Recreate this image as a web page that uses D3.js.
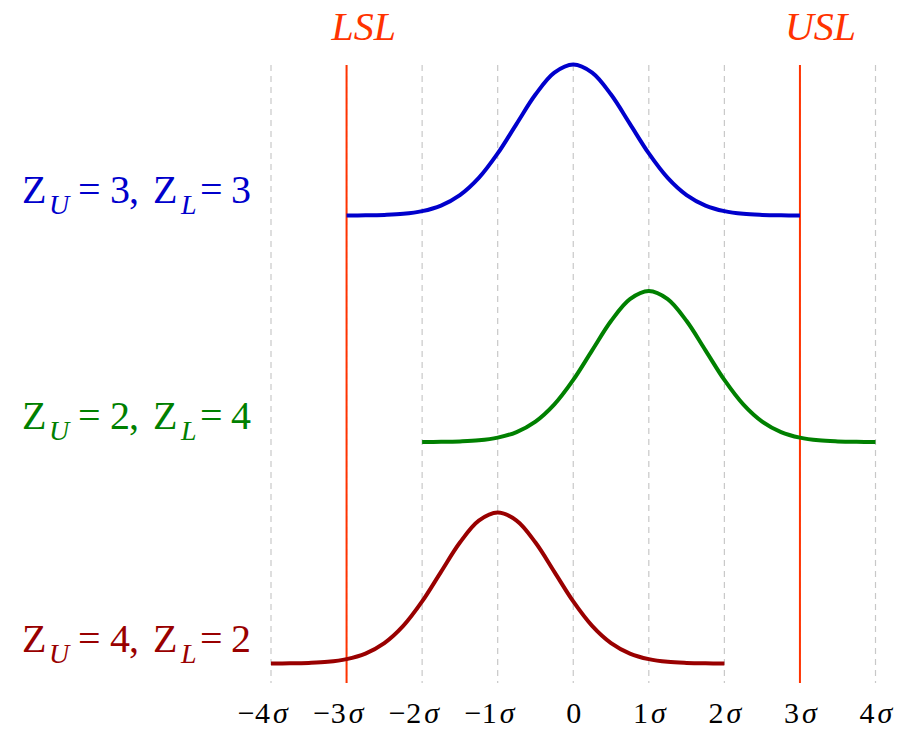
<!DOCTYPE html>
<html><head><meta charset="utf-8">
<script src="https://cdn.jsdelivr.net/npm/d3@7"></script>
<style>
html,body{margin:0;padding:0;background:#fff;}
svg{display:block;}
</style></head>
<body>
<svg id="chart" width="908" height="729"></svg>
<script>
// ---- data ----
const tickValues = [-4, -3, -2, -1, 0, 1, 2, 3, 4];
const tickNums   = ["4", "3", "2", "1", "0", "1", "2", "3", "4"];
const tickSigns  = ["\u2212", "\u2212", "\u2212", "\u2212", "", "", "", "", ""];
const specLimits = [-3, 3];
const specNames  = ["LSL", "USL"];
// relative height of each curve, at offsets (in sigma) from its centre
const profileOffsets = [-3, -2.75, -2.5, -2.25, -2, -1.75, -1.5, -1.25, -1, -0.75, -0.5, -0.25, 0,
                        0.25, 0.5, 0.75, 1, 1.25, 1.5, 1.75, 2, 2.25, 2.5, 2.75, 3];
const profileHeights = [0.0003, 0.0012, 0.004, 0.011, 0.029, 0.066, 0.135, 0.249, 0.411, 0.607, 0.801, 0.946, 1,
                        0.946, 0.801, 0.607, 0.411, 0.249, 0.135, 0.066, 0.029, 0.011, 0.004, 0.0012, 0.0003];
const seriesNames  = ["blue", "green", "red"];
const seriesMeans  = [0, 1, -1];
const seriesZU     = [3, 2, 4];
const seriesZL     = [3, 4, 2];

// ---- layout / style ----
const FONT = "Liberation Serif";
const colors = ["#0000cc", "#008000", "#990000"];
const baselines = [215.5, 442, 663.5];
const curveHeight = 151;
const labelBaselines = [203, 429, 652];
const specColor = "#ff3300";
// x positions of the pieces of each left label: Z, sub, =, value, comma, Z, sub, =, value
const labelPieceX = [22, 49, 78, 110, 129, 153, 181, 200, 231];

const svg = d3.select("#chart").attr("font-family", FONT);
const x = d3.scaleLinear().domain([-4, 4]).range([271, 875.5]);

// grid lines
svg.append("g").selectAll("line").data(tickValues).join("line")
  .attr("x1", d => x(d)).attr("x2", d => x(d))
  .attr("y1", 65).attr("y2", 683)
  .attr("stroke", "#c8c8c8").attr("stroke-width", 1.2)
  .attr("stroke-dasharray", "6,5");

// spec limit lines
svg.append("g").selectAll("line").data(specLimits).join("line")
  .attr("x1", d => x(d)).attr("x2", d => x(d))
  .attr("y1", 65).attr("y2", 683)
  .attr("stroke", specColor).attr("stroke-width", 2);

svg.append("g").selectAll("text").data(specLimits).join("text")
  .attr("x", d => x(d) - 15).attr("y", 39.5)
  .attr("font-family", FONT)
  .attr("font-style", "italic")
  .attr("font-size", 40)
  .attr("fill", specColor)
  .text((d, i) => specNames[i]);

// curves
seriesNames.forEach((name, i) => {
  const y = d3.scaleLinear().domain([0, 1]).range([baselines[i], baselines[i] - curveHeight]);
  const pts = profileOffsets.map((o, j) => [seriesMeans[i] + o, profileHeights[j]]);
  const line = d3.line().x(d => x(d[0])).y(d => y(d[1])).curve(d3.curveCatmullRom);
  svg.append("path").datum(pts)
    .attr("d", line)
    .attr("fill", "none")
    .attr("stroke", colors[i])
    .attr("stroke-width", 4)
    .attr("stroke-linejoin", "round");

  // label
  const yb = labelBaselines[i];
  const pieces = [
    {t: "Z", sub: false}, {t: "U", sub: true}, {t: "=", sub: false}, {t: String(seriesZU[i]), sub: false},
    {t: ",", sub: false}, {t: "Z", sub: false}, {t: "L", sub: true}, {t: "=", sub: false}, {t: String(seriesZL[i]), sub: false}
  ];
  const t = svg.append("text").attr("fill", colors[i]).attr("font-size", 40).attr("font-family", FONT);
  pieces.forEach((p, k) => {
    t.append("tspan")
      .attr("x", labelPieceX[k])
      .attr("y", p.sub ? yb + 11 : yb)
      .attr("font-size", p.sub ? 28 : 40)
      .attr("font-style", p.sub ? "italic" : "normal")
      .text(p.t);
  });
});

// x axis
const axis = d3.axisBottom(x).tickValues(tickValues).tickSize(0).tickPadding(0)
  .tickFormat((d, i) => tickNums[i]);
const gAxis = svg.append("g").attr("transform", "translate(0,683)").call(axis);
gAxis.attr("font-family", FONT);
gAxis.select(".domain").remove();
gAxis.selectAll("text")
  .attr("font-family", FONT)
  .attr("font-size", 30)
  .attr("fill", "#000")
  .attr("y", 40).attr("dy", null)
  .each(function(d, i) {
    const el = d3.select(this);
    el.text(null);
    el.append("tspan").text(tickNums[i]);
    if (d !== 0) el.append("tspan").attr("dx", 3).attr("font-style", "italic").text("\u03c3");
  });
// minus signs hang to the left of the centred number
gAxis.selectAll(".tick").append("text")
  .attr("font-family", FONT)
  .attr("font-size", 30).attr("fill", "#000")
  .attr("text-anchor", "end")
  .attr("y", 40)
  .attr("x", function(d, i) {
    const w = this.parentNode.querySelector("text").getComputedTextLength();
    return -w / 2 - 2;
  })
  .text((d, i) => tickSigns[i]);
</script>
</body></html>
